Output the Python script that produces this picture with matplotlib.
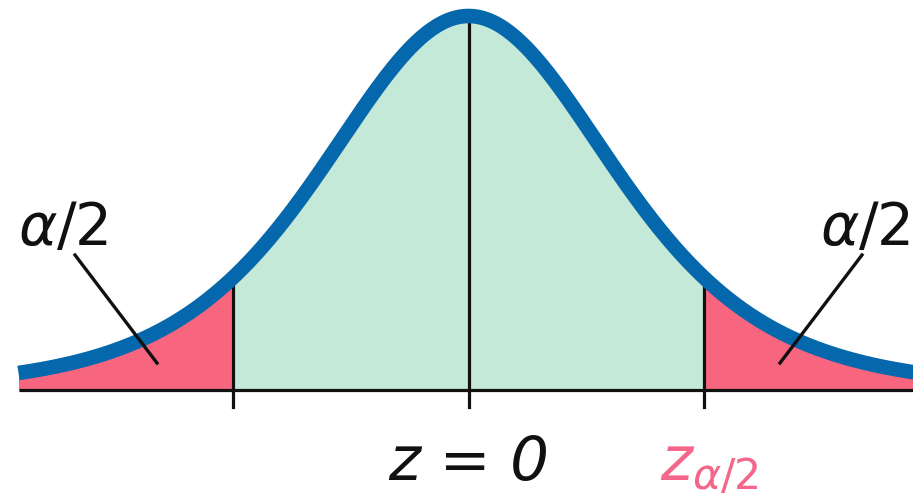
import numpy as np
import matplotlib.pyplot as plt

# curve shape (heavy-ish tails, peak scaled to 1)
df_shape = 5
z_crit = 1.573
x_lo, x_hi = -3.0, 2.97

tail_label = r"$\alpha$/2"
center_label = "z = 0"
crit_label = r"$z_{\alpha/2}$"

blue = '#0568ac'
green = '#c5e9d8'
pink = '#f8657e'
pink_txt = '#f4668a'


def curve(t):
    return (1 + t**2 / df_shape) ** (-(df_shape + 1) / 2)


fig = plt.figure(figsize=(9.13, 5.01), dpi=100)
ax = fig.add_axes([0, 0, 1, 1])
ax.set_xlim(-468.5 / 150, 444.5 / 150)
ax.set_ylim(-111 / 374, 390 / 374)
ax.axis('off')

x = np.linspace(x_lo, x_hi, 800)
y = curve(x)

mid = (x >= -z_crit) & (x <= z_crit)
ax.fill_between(x, 0, y, where=mid, color=green, lw=0)
ax.fill_between(x, 0, y, where=x <= -z_crit, color=pink, lw=0)
ax.fill_between(x, 0, y, where=x >= z_crit, color=pink, lw=0)

# axis line and vertical markers
tick = 17 / 374
ax.plot([x_lo, 3.2], [0, 0], color='#111111', lw=2.3, solid_capstyle='butt')
for xv in [-z_crit, 0, z_crit]:
    ax.plot([xv, xv], [-tick, curve(xv)], color='#111111', lw=2.3)

ax.plot(x, y, color=blue, lw=10.5, solid_capstyle='butt')

# leader lines
ax.plot([(75 - 468.5) / 150, (157 - 468.5) / 150],
        [(390 - 255) / 374, (390 - 363) / 374], color='#111111', lw=2.4)
ax.plot([(862 - 468.5) / 150, (780 - 468.5) / 150],
        [(390 - 255) / 374, (390 - 363) / 374], color='#111111', lw=2.4)

ax.text((18 - 468.5) / 150, (390 - 245) / 374, tail_label, fontsize=42,
        ha='left', va='baseline', color='#111111')
ax.text((820 - 468.5) / 150, (390 - 245) / 374, tail_label, fontsize=42,
        ha='left', va='baseline', color='#111111')
ax.text(0, (390 - 480) / 374, center_label, fontsize=44, style='italic',
        ha='center', va='baseline', color='#111111')
ax.text((660 - 468.5) / 150, (390 - 480) / 374, crit_label, fontsize=44,
        ha='left', va='baseline', color=pink_txt)

fig.savefig('out.png', dpi=100)
